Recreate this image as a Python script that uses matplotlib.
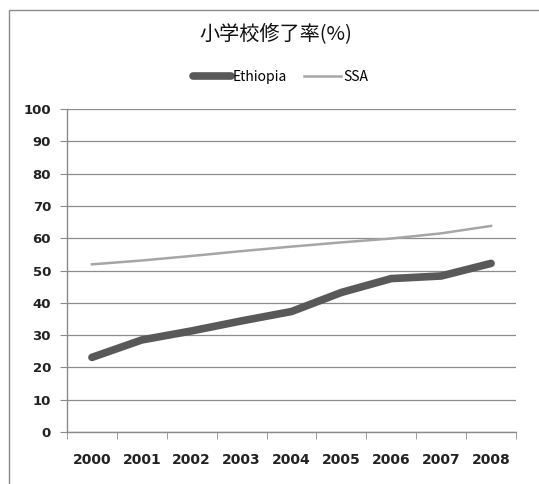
import matplotlib
matplotlib.use('Agg')
import matplotlib.pyplot as plt
from matplotlib.patches import Rectangle

years = ['2000', '2001', '2002', '2003', '2004', '2005', '2006', '2007', '2008']
ethiopia = [23.1, 28.5, 31.3, 34.4, 37.3, 43.2, 47.5, 48.3, 52.2]
ssa = [51.9, 53.1, 54.5, 56.0, 57.4, 58.7, 59.9, 61.5, 63.8]
yticks = list(range(0, 101, 10))

plt.rcParams['font.family'] = ['Noto Sans CJK JP', 'DejaVu Sans']

W, H = 539, 484
fig = plt.figure(figsize=(W / 100, H / 100), dpi=100)

# outer chart frame (cropped at right and bottom in the reference)
fig.patches.append(Rectangle((9 / W, -0.1), 1.2, 1 - 10 / H + 0.1,
                             transform=fig.transFigure, fill=False,
                             edgecolor='#8a8a8a', linewidth=1))

ax = fig.add_axes([67 / W, (H - 432) / H, (516 - 67) / W, (432 - 109) / H])

x = list(range(len(years)))
ax.plot(x, ethiopia, color='#595959', linewidth=5.5, solid_capstyle='round',
        solid_joinstyle='round', label='Ethiopia', zorder=3)
ax.plot(x, ssa, color='#a6a6a6', linewidth=1.8, label='SSA', zorder=3)

ax.set_xlim(-0.5, len(years) - 0.5)
ax.set_ylim(0, 100)
ax.set_yticks(yticks)
ax.set_yticklabels([str(v) for v in yticks], fontsize=9.5, fontweight='bold',
                   family='DejaVu Sans', color='#222222')
ax.set_xticks(x)
ax.set_xticklabels(years, fontsize=10, fontweight='bold',
                   family='DejaVu Sans', color='#222222')
ax.set_xticks([i - 0.5 for i in range(len(years) + 1)], minor=True)
ax.tick_params(axis='x', which='major', length=0, pad=15)
ax.tick_params(axis='x', which='minor', length=5, color='#8a8a8a', direction='out')
ax.tick_params(axis='y', length=5, color='#8a8a8a', pad=6.5)

ax.grid(axis='y', color='#8c8c8c', linewidth=0.9)
ax.set_axisbelow(True)
for s in ['top', 'right']:
    ax.spines[s].set_visible(False)
for s in ['left', 'bottom']:
    ax.spines[s].set_color('#8a8a8a')
    ax.spines[s].set_linewidth(1)

fig.text(276 / W, 1 - 35 / H, '小学校修了率(%)', ha='center', va='center',
         fontsize=14.5, color='#111111')
fig.legend(loc='center', bbox_to_anchor=(281 / W, 1 - 77 / H), ncol=2, frameon=False,
           fontsize=10, handlelength=2.7, handletextpad=0.15, columnspacing=1.2)

fig.savefig('out.png', dpi=100)
